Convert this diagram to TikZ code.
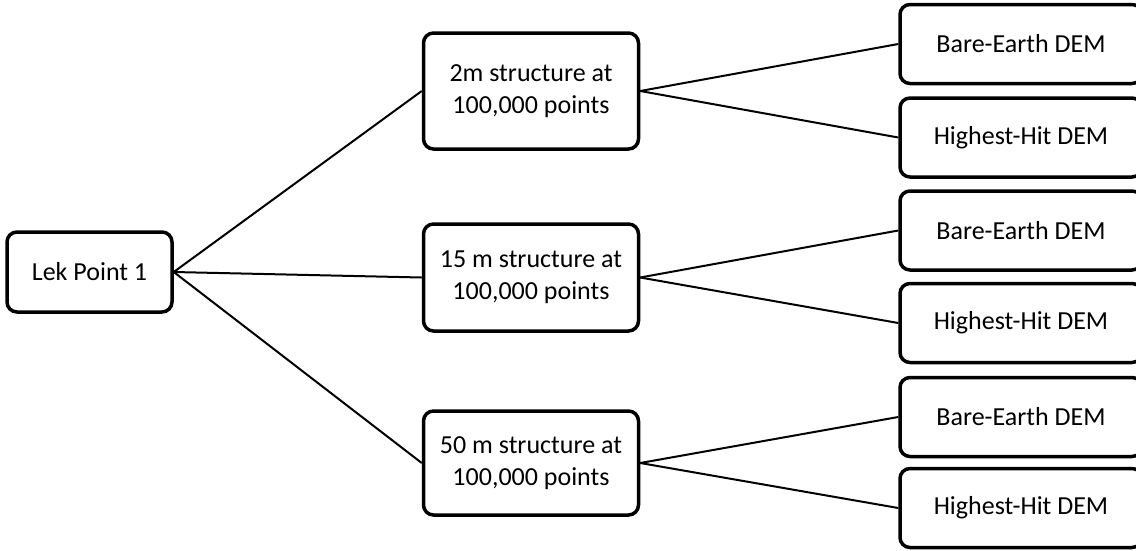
\documentclass[tikz,border=0pt]{standalone}
\usepackage{fontspec}
\setmainfont{Carlito}
\begin{document}
\tikzset{
  box/.style={draw, line width=3.5pt, rounded corners=10pt, align=center, inner sep=0pt,
    font=\fontsize{26}{32}\selectfont},
  midbox/.style={box, minimum width=215pt},
  leafbox/.style={box, minimum width=242pt, minimum height=79pt},
  link/.style={line width=2pt}
}
\begin{tikzpicture}[x=1pt,y=-1pt]
\useasboundingbox (0,0) rectangle (1136,550);
\clip (0,0) rectangle (1136,550);
\node[box, minimum width=165pt, minimum height=80pt] (lek) at (89.5,272) {Lek Point 1};
\node[midbox, minimum height=116pt] (m1) at (531,91) {2m structure at\\100,000 points};
\node[midbox, minimum height=107pt] (m2) at (531,277.5) {15 m structure at\\100,000 points};
\node[midbox, minimum height=104pt] (m3) at (531,463) {50 m structure at\\100,000 points};
\node[leafbox] (r1) at (1021,44) {Bare-Earth DEM};
\node[leafbox] (r2) at (1021,137.5) {Highest-Hit DEM};
\node[leafbox] (r3) at (1021,230.5) {Bare-Earth DEM};
\node[leafbox] (r4) at (1021,323) {Highest-Hit DEM};
\node[leafbox] (r5) at (1021,417) {Bare-Earth DEM};
\node[leafbox] (r6) at (1021,508) {Highest-Hit DEM};
\draw[link] (lek.east) -- (m1.west);
\draw[link] (lek.east) -- (m2.west);
\draw[link] (lek.east) -- (m3.west);
\draw[link] (m1.east) -- (r1.west);
\draw[link] (m1.east) -- (r2.west);
\draw[link] (m2.east) -- (r3.west);
\draw[link] (m2.east) -- (r4.west);
\draw[link] (m3.east) -- (r5.west);
\draw[link] (m3.east) -- (r6.west);
\end{tikzpicture}
\end{document}
